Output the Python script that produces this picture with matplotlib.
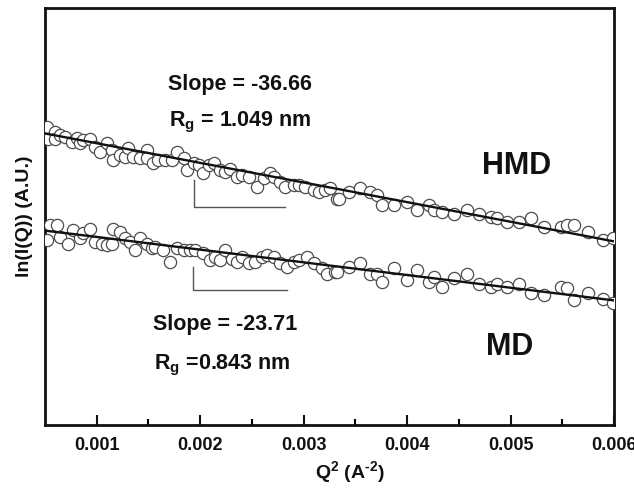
import matplotlib
matplotlib.use("Agg")
import matplotlib.pyplot as plt
import numpy as np

plt.rcParams["font.family"] = ["Liberation Sans", "DejaVu Sans"]
plt.rcParams["mathtext.fontset"] = "custom"
plt.rcParams["mathtext.rm"] = "Liberation Sans:bold"
plt.rcParams["mathtext.it"] = "Liberation Sans:bold"
plt.rcParams["mathtext.bf"] = "Liberation Sans:bold"

# ── Data (Q^2 in A^-2, ln I in arbitrary units) ──────────────────────────
hmd_q2 = [0.000516, 0.000532, 0.000597, 0.000600, 0.000645, 0.000694, 0.000758,
          0.000807, 0.000839, 0.000871, 0.000936, 0.000984, 0.001032, 0.001097,
          0.001146, 0.001161, 0.001226, 0.001274, 0.001306, 0.001355, 0.001420,
          0.001484, 0.001490, 0.001548, 0.001597, 0.001662, 0.001726, 0.001775,
          0.001839, 0.001872, 0.001936, 0.001984, 0.002032, 0.002081, 0.002130,
          0.002194, 0.002242, 0.002291, 0.002356, 0.002404, 0.002468, 0.002549,
          0.002613, 0.002678, 0.002710, 0.002775, 0.002823, 0.002904, 0.002952,
          0.003017, 0.003097, 0.003146, 0.003210, 0.003259, 0.003324, 0.003339,
          0.003436, 0.003549, 0.003646, 0.003711, 0.003759, 0.003872, 0.004001,
          0.004098, 0.004210, 0.004259, 0.004340, 0.004452, 0.004582, 0.004694,
          0.004808, 0.004872, 0.004969, 0.005082, 0.005195, 0.005324, 0.005485,
          0.005550, 0.005614, 0.005744, 0.005889, 0.005995]
hmd_lnI = [4.557, 4.535, 4.548, 4.534, 4.542, 4.538, 4.529, 4.537, 4.526, 4.532,
           4.535, 4.520, 4.510, 4.526, 4.514, 4.495, 4.504, 4.501, 4.517, 4.501,
           4.498, 4.514, 4.498, 4.489, 4.495, 4.495, 4.495, 4.510, 4.498, 4.476,
           4.489, 4.486, 4.470, 4.486, 4.489, 4.476, 4.473, 4.479, 4.464, 4.467,
           4.464, 4.445, 4.461, 4.470, 4.464, 4.454, 4.445, 4.448, 4.448, 4.445,
           4.439, 4.436, 4.439, 4.442, 4.423, 4.423, 4.436, 4.442, 4.436, 4.430,
           4.411, 4.411, 4.417, 4.401, 4.411, 4.401, 4.398, 4.395, 4.401, 4.395,
           4.389, 4.386, 4.380, 4.380, 4.386, 4.370, 4.370, 4.373, 4.373, 4.361,
           4.345, 4.349]

md_q2 = [0.000516, 0.000548, 0.000613, 0.000645, 0.000726, 0.000774, 0.000839,
         0.000871, 0.000936, 0.000984, 0.001049, 0.001097, 0.001146, 0.001161,
         0.001226, 0.001274, 0.001323, 0.001371, 0.001420, 0.001484, 0.001533,
         0.001565, 0.001645, 0.001710, 0.001775, 0.001839, 0.001904, 0.001952,
         0.002032, 0.002097, 0.002146, 0.002194, 0.002242, 0.002307, 0.002356,
         0.002404, 0.002468, 0.002533, 0.002598, 0.002646, 0.002710, 0.002775,
         0.002840, 0.002904, 0.002952, 0.003033, 0.003097, 0.003178, 0.003227,
         0.003307, 0.003324, 0.003436, 0.003549, 0.003646, 0.003711, 0.003759,
         0.003872, 0.004001, 0.004098, 0.004210, 0.004259, 0.004340, 0.004452,
         0.004582, 0.004694, 0.004808, 0.004872, 0.004969, 0.005082, 0.005195,
         0.005324, 0.005485, 0.005550, 0.005614, 0.005744, 0.005889, 0.005995]
md_lnI = [4.345, 4.373, 4.373, 4.352, 4.339, 4.364, 4.349, 4.358, 4.367, 4.342,
          4.339, 4.336, 4.339, 4.367, 4.361, 4.349, 4.342, 4.327, 4.349, 4.339,
          4.330, 4.333, 4.327, 4.305, 4.330, 4.327, 4.327, 4.327, 4.321, 4.308,
          4.314, 4.308, 4.327, 4.311, 4.305, 4.314, 4.302, 4.305, 4.314, 4.317,
          4.314, 4.302, 4.296, 4.305, 4.308, 4.314, 4.302, 4.293, 4.283, 4.286,
          4.286, 4.296, 4.302, 4.283, 4.283, 4.267, 4.293, 4.271, 4.289, 4.267,
          4.277, 4.258, 4.274, 4.283, 4.264, 4.258, 4.264, 4.258, 4.264, 4.246,
          4.243, 4.258, 4.255, 4.233, 4.246, 4.236, 4.227]

# Guinier fits: slope and intercept
hmd_fit = (-36.66, 4.563)
md_fit = (-23.71, 4.375)

X_MIN, X_MAX = 0.0005, 0.006
Y_MIN, Y_MAX = 4.0, 4.779

fig = plt.figure(figsize=(6.34, 4.96), dpi=100)
ax = fig.add_axes([45 / 634, 1 - 425 / 496, 569 / 634, 417 / 496])

pt_style = dict(linestyle="none", marker="o", markersize=8.8, markerfacecolor="white",
                markeredgecolor="#4d4d4d", markeredgewidth=0.9, zorder=3)
ax.plot(hmd_q2, hmd_lnI, **pt_style)
ax.plot(md_q2, md_lnI, **pt_style)

xf = np.array([X_MIN, X_MAX])
for slope, icpt in (hmd_fit, md_fit):
    ax.plot(xf, icpt + slope * xf, color="#111111", linewidth=1.7, zorder=4)

# slope guide brackets
for (x0, x1, ytop, ybot) in [(0.001945, 0.002823, 4.458, 4.408),
                             (0.001930, 0.002840, 4.296, 4.253)]:
    ax.plot([x0, x0, x1], [ytop, ybot, ybot], color="#555555", linewidth=1.0, zorder=2)

txt = dict(fontsize=15.5, fontweight="bold", color="#111111", ha="center", va="baseline")
ax.text(0.002388, 4.626, "Slope = -36.66", **txt)
ax.text(0.002388, 4.557, r"R$_{g}$ = 1.049 nm", **txt)
ax.text(0.002242, 4.178, "Slope = -23.71", **txt)
ax.text(0.002218, 4.104, r"R$_{g}$ =0.843 nm", **txt)
ax.text(0.005060, 4.469, "HMD", fontsize=22, fontweight="bold", color="#111111",
        ha="center", va="baseline")
ax.text(0.004990, 4.130, "MD", fontsize=22, fontweight="bold", color="#111111",
        ha="center", va="baseline")

ax.set_xlim(X_MIN, X_MAX)
ax.set_ylim(Y_MIN, Y_MAX)
ax.set_xticks([0.001, 0.002, 0.003, 0.004, 0.005, 0.006])
ax.set_xticklabels(["0.001", "0.002", "0.003", "0.004", "0.005", "0.006"])
ax.set_xticks([0.0015, 0.0025, 0.0035, 0.0045, 0.0055], minor=True)
ax.set_yticks([])
ax.tick_params(axis="x", which="major", direction="in", length=7, width=1.5,
               labelsize=13, pad=9, colors="#111111")
ax.tick_params(axis="x", which="minor", direction="in", length=4, width=1.5)
for sp in ax.spines.values():
    sp.set_linewidth(2.0)
    sp.set_color("#111111")
for lbl in ax.get_xticklabels():
    lbl.set_fontweight("bold")

ax.set_xlabel(r"Q$^{2}$ (A$^{\text{-2}}$)", fontsize=14, fontweight="bold", color="#111111")
ax.xaxis.set_label_coords(0.535, -0.082)
ax.set_ylabel("ln(I(Q)) (A.U.)", fontsize=14, fontweight="bold", color="#111111")
ax.yaxis.set_label_coords(-0.021, 0.5)

fig.savefig("out.png", dpi=100)
